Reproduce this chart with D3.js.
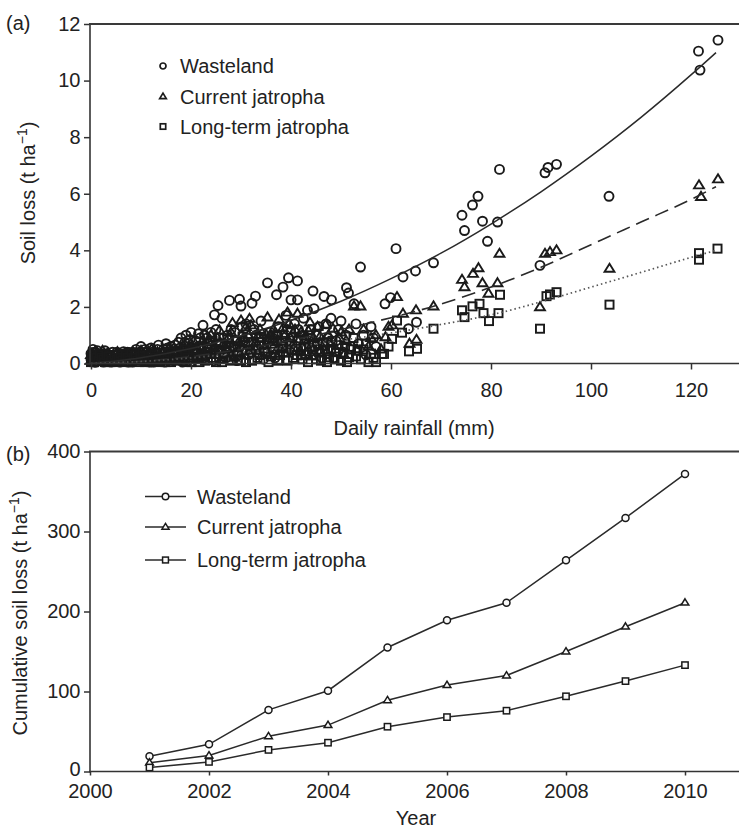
<!DOCTYPE html>
<html><head><meta charset="utf-8">
<script src="https://cdn.jsdelivr.net/npm/d3@7"></script>
<style>
body{margin:0;background:#fff}
text{font-family:"Liberation Sans",Arial,Helvetica,sans-serif;fill:#222}
</style>
</head><body>
<svg id="chart" width="739" height="829"></svg>
<script>
// ---------- Panel (a): daily soil loss vs rainfall ----------
const seriesNames = ["Wasteland", "Current jatropha", "Long-term jatropha"];

const wastelandPts = [
 [0,0.35],[0,0.15],[0.2,0.1],[0.3,0.3],[0.4,0.5],[0.5,0.2],[0.7,0.05],[0.8,0.4],[1,0.05],[1.2,0.25],[1.3,0.45],[1.5,0.35],[1.8,0.2],[2,0.1],[2.3,0.3],[2.5,0.05],[2.8,0.45],[3,0.15],[3.2,0.35],[3.5,0.3],[3.8,0.2],[4,0.05],[4.3,0.4],[4.6,0.1],[5,0.2],[5.2,0.4],[5.5,0.35],[5.8,0.05],[6,0.1],[6.2,0.3],[6.5,0.42],[6.8,0.15],[7,0.25],[7.3,0.4],[7.5,0.05],[7.8,0.2],[8,0.35],[8.3,0.05],[8.5,0.15],[8.8,0.3],[9,0.5],[9.3,0.15],[9.5,0.3],[9.8,0.4],[10,0.6],[10.3,0.3],[10.5,0.1],[10.8,0.5],[11,0.4],[11.3,0.15],[11.5,0.25],[11.8,0.05],[12,0.55],[12.3,0.4],[12.5,0.05],[12.8,0.2],[13,0.35],[13.3,0.5],[13.5,0.65],[13.8,0.1],[14,0.2],[14.3,0.35],[14.5,0.5],[14.8,0.05],[15,0.7],[15.3,0.55],[15.5,0.3],[15.8,0.15],[16,0.6],[16.3,0.4],[16.5,0.1],[16.8,0.65],[17,0.45],[17.3,0.2],[17.5,0.75],[17.8,0.55],[18,0.9],[18.3,0.05],[18.5,0.3],[18.8,0.75],[19,1.0],[19.3,0.4],[19.5,0.6],[19.8,0.85],[20,1.1],[20.3,0.5],[20.5,0.2],[21,0.8],[21.3,0.35],[21.5,1.05],[21.8,0.9],[22,0.5],
 [22.2,0.15],[22.4,1.35],[22.7,1.0],[23,0.3],[23.2,0.9],[23.5,0.7],[23.8,0.4],[24,1.1],[24.5,0.1],[24.7,1.72],[25,1.2],[25.4,2.05],[25.5,0.5],[25.8,0.7],[26.2,1.6],[26.3,0.35],[26.5,0.9],[27,0.2],[27.3,1.0],[27.7,2.23],[27.8,0.45],[28,1.2],[28.5,0.6],[28.8,1.1],[29.2,0.1],[29.7,2.27],[29.8,0.6],[30,2.03],[30.2,1.3],[30.5,0.8],[31,1.4],[31.3,0.9],[31.5,0.3],[32,0.4],[32.2,2.13],[32.6,1.2],[32.9,2.38],[33,1.0],[33.5,0.5],[33.8,0.75],[34,1.5],[34.5,1.05],[34.5,0.15],[35,0.4],[35.3,2.85],[35.8,1.1],[36,0.6],[36.3,0.9],[36.8,0.2],[37.1,2.43],[37.3,1.0],[37.5,1.3],[38,0.7],[38.4,2.7],[38.5,0.4],[39,1.7],[39.3,1.2],[39.5,3.03],[39.8,0.5],[40,2.25],[40.3,0.9],[40.7,1.4],[41.2,0.6],[41.3,2.92],[41.3,2.25],[41.5,1.2],[42,0.3],[42.3,1.0],[42.5,1.6],[43,0.3],[43.3,1.88],[43.5,0.7],[44,1.2],[44.4,2.56],[44.6,1.94],[44.8,0.6],[45,1.0],[45.5,0.5],[45.6,1.3],[46.2,0.2],[46.6,2.37],[47,1.4],[47.3,0.9],[48,1.6],[48.1,2.25],[48.5,0.2],[49,0.8],[49.5,1.2],[50,1.5],[50.5,0.4],[51,1.0],[51.1,2.68],[51.5,2.49],[52,0.6],[52.6,2.11],[53,1.4],[53.5,0.7],[53.9,3.41],[54.5,1.0],[55,0.3],[56,1.3],[56.5,0.9],[57,0.6],
 [58.8,2.11],[59.9,2.33],[61,4.06],[62.4,3.06],[63.5,1.23],[64.9,3.27],[65.1,1.46],[68.5,3.56],[74.2,5.24],[74.7,4.7],[76.3,5.6],[77.4,5.91],[78.3,5.03],[79.3,4.32],[81.3,5.0],[81.7,6.86],[89.8,3.47],[90.8,6.74],[91.4,6.93],[93.1,7.04],[103.6,5.91],[121.5,11.04],[121.8,10.37],[125.4,11.43]
];

const currentPts = [
 [0,0.3],[0,0.1],[0.3,0.05],[0.5,0.25],[0.8,0.4],[1,0.15],[1.3,0.2],[1.5,0.05],[2,0.3],[2.3,0.45],[2.5,0.1],[3,0.2],[3.3,0.35],[3.8,0.05],[4,0.15],[4.5,0.25],[5,0.1],[5.3,0.4],[5.8,0.3],[6,0.2],[6.5,0.15],[7,0.35],[7.2,0.05],[7.6,0.15],[8,0.25],[8.4,0.4],[8.8,0.1],[9.1,0.2],[9.5,0.35],[10,0.45],[10.2,0.2],[10.6,0.1],[11,0.05],[11.4,0.35],[11.8,0.3],[12.1,0.5],[12.5,0.15],[12.9,0.05],[13.3,0.4],[13.7,0.25],[14,0.1],[14.4,0.45],[14.8,0.3],[15.1,0.1],[15.5,0.5],[15.9,0.35],[16.2,0.2],[16.6,0.55],[17,0.4],[17.4,0.2],[17.8,0.1],[18.1,0.4],[18.5,0.6],[18.9,0.05],[19.2,0.3],[19.6,0.5],[20,0.7],[20.4,0.25],[20.8,0.45],[21.1,0.6],[21.5,0.15],[21.8,0.35],
 [22.3,0.8],[22.6,0.2],[23,0.5],[23.5,0.75],[24,1.0],[24.5,0.55],[25,0.3],[25.3,0.9],[25.7,1.17],[26,0.15],[26.5,0.7],[27,0.5],[27.5,0.9],[28,1.1],[28.3,1.43],[28.7,0.2],[29,0.4],[29.5,0.75],[30,1.52],[30.5,0.9],[30.8,0.45],[31,1.29],[31.5,1.0],[31.7,1.58],[32,1.35],[32.5,0.6],[33,0.75],[33.5,1.0],[33.8,1.2],[34.2,0.3],[34.8,0.5],[35.3,1.63],[35.5,0.8],[36,1.0],[36.5,1.2],[36.8,0.35],[37.3,0.85],[37.6,1.55],[38,0.5],[38.4,1.25],[38.8,1.0],[39.3,1.8],[39.6,1.4],[39.9,0.9],[40.5,0.7],[40.8,1.2],[41.3,1.76],[41.8,0.45],[42,1.1],[42.6,0.8],[43,0.4],[43.5,1.15],[43.8,1.45],[44.2,0.25],[44.5,0.9],[45.3,1.3],[45.8,0.95],[46.2,0.6],[46.9,1.37],[47.2,0.4],[47.5,1.0],[48,0.7],[48.4,1.23],[49,0.5],[49.6,0.9],[50,1.1],[50.6,0.3],[51,0.8],[51.6,1.2],[52.6,2.02],[53.2,0.5],[53.9,2.02],[54.5,1.2],[55.5,0.6],[56,0.9],[57,1.0],[58,0.5],[58.9,0.93],[59.5,1.3],[60.2,1.35],
 [61.2,2.35],[62.4,1.76],[63.7,0.7],[65,1.88],[65.1,0.84],[68.5,2.02],[74.2,2.96],[74.7,2.7],[76.4,3.17],[77.5,3.37],[78.3,2.84],[79.5,2.47],[81.3,2.84],[81.7,3.88],[89.8,1.99],[90.8,3.88],[91.8,3.94],[93.1,4.0],[103.7,3.35],[121.6,6.3],[122,5.89],[125.4,6.51]
];

const longtermPts = [
 [0,0.25],[0,0.05],[0.2,0.15],[0.4,0.4],[0.6,0.05],[1,0.3],[1.2,0.2],[1.5,0.1],[1.8,0.35],[2.2,0.2],[2.5,0.15],[2.8,0.05],[3.1,0.3],[3.5,0.25],[3.9,0.05],[4.2,0.1],[4.7,0.3],[5,0.05],[5.2,0.15],[5.5,0.2],[6,0.35],[6.3,0.1],[6.7,0.05],[7,0.3],[7.4,0.2],[7.8,0.05],[8.1,0.4],[8.5,0.2],[8.9,0.3],[9.3,0.1],[9.7,0.05],[10,0.25],[10.4,0.4],[10.8,0.05],[11.2,0.15],[11.5,0.3],[11.9,0.05],[12.3,0.1],[12.7,0.35],[13,0.2],[13.4,0.1],[13.8,0.05],[14.1,0.25],[14.5,0.35],[14.9,0.05],[15.3,0.15],[15.7,0.4],[16,0.05],[16.4,0.2],[16.8,0.3],[17.2,0.1],[17.5,0.45],[17.9,0.3],[18.3,0.15],[18.7,0.5],[19,0.35],[19.4,0.2],[19.8,0.05],[20.1,0.05],[20.5,0.5],[21,0.4],[21.3,0.2],[21.7,0.05],
 [22,0.6],[22.4,0.3],[22.8,0.1],[23.2,0.55],[23.5,0.4],[24,0.2],[24.3,0.8],[24.7,0.45],[25,0.05],[25.5,0.7],[25.8,0.5],[26.2,0.05],[26.5,0.25],[27,0.4],[27.3,0.85],[27.7,0.6],[28,0.1],[28.5,0.3],[28.8,0.6],[29.2,0.8],[29.5,0.3],[30,0.1],[30.3,0.95],[30.7,0.45],[31,0.05],[31.5,0.75],[31.8,0.5],[32.2,0.1],[32.5,0.75],[33,0.5],[33.3,0.2],[33.7,0.3],[34,0.9],[34.5,0.65],[34.8,0.4],[35.2,0.85],[35.5,0.05],[36,0.25],[36.3,0.7],[36.7,0.5],[37,1.0],[37.4,0.1],[37.8,0.3],[38.2,0.8],[38.5,0.6],[39,0.4],[39.3,0.1],[39.7,0.7],[40,1.1],[40.4,0.2],[40.8,0.45],[41.2,0.3],[41.5,0.8],[42,0.5],[42.3,0.15],[42.7,0.85],[43,0.6],[43.4,0.05],[43.8,1.0],[44.2,0.5],[44.5,0.3],[45,0.15],[45.3,0.7],[45.7,0.4],[46,0.1],[46.4,0.75],[46.8,0.5],[47.2,0.05],[47.6,0.22],[48,0.5],[48.3,0.8],[48.7,0.15],[49,0.4],[49.5,0.65],[50,0.1],[50.4,0.35],[50.8,0.6],[51.2,0.05],[51.6,0.22],[52,0.5],[52.5,0.9],[53,0.25],[53.3,0.45],[54,0.15],[54.5,0.5],[55,0.7],[55.5,0.05],[56,0.35],[56.5,0.2],[57,0.05],[58.2,0.34],[58.6,0.34],[59.5,0.6],[60.2,0.87],
 [61.2,1.52],[62.2,1.09],[63.6,0.43],[65.2,0.52],[68.5,1.23],[74.2,1.88],[74.7,1.64],[76.3,2.02],[77.7,2.11],[78.5,1.78],[79.6,1.5],[81.5,1.78],[81.8,2.43],[89.8,1.23],[91.1,2.38],[91.8,2.44],[93.1,2.52],[103.7,2.08],[121.6,3.9],[121.6,3.67],[125.3,4.06]
];

// fitted trend curves
const fitRain      = [0, 10, 20, 30, 40, 50, 60, 70, 80, 90, 100, 110, 120, 125];
const fitWasteland = [0, 0.2, 0.53, 0.98, 1.53, 2.2, 3.0, 3.9, 4.93, 6.07, 7.33, 8.7, 10.2, 10.99];
const fitCurrent   = [0, 0.08, 0.25, 0.5, 0.82, 1.2, 1.62, 2.1, 2.7, 3.4, 4.2, 5.0, 5.8, 6.25];
const fitLongterm  = [0, 0.07, 0.2, 0.38, 0.58, 0.82, 1.08, 1.38, 1.72, 2.18, 2.7, 3.22, 3.75, 4.0];

const rainTicks = [0, 20, 40, 60, 80, 100, 120];
const lossTicks = [0, 2, 4, 6, 8, 10, 12];

// ---------- Panel (b): cumulative soil loss ----------
const years         = [2001, 2002, 2003, 2004, 2005, 2006, 2007, 2008, 2009, 2010];
const cumWasteland  = [19, 34, 77, 101, 155, 189, 211, 264, 317, 372];
const cumCurrent    = [11, 20, 44, 58, 89, 108, 120, 150, 181, 211];
const cumLongterm   = [5, 12, 27, 36, 56, 68, 76, 94, 113, 133];
const yearTicks     = [2000, 2002, 2004, 2006, 2008, 2010];
const cumTicks      = [0, 100, 200, 300, 400];

// ---------- drawing ----------
const svg = d3.select("#chart");
const FS = 20;
const INK = "#1a1a1a";

function marker(sel, kind, size) {
  const s = size;
  if (kind === 0) {
    sel.append("circle").attr("r", s * 0.5).attr("cx", 0).attr("cy", 0);
  } else if (kind === 1) {
    const h = s * 0.9;
    sel.append("path").attr("d", `M0,${-h*0.62}L${s*0.55},${h*0.38}L${-s*0.55},${h*0.38}Z`);
  } else {
    sel.append("rect").attr("x", -s*0.45).attr("y", -s*0.45).attr("width", s*0.9).attr("height", s*0.9);
  }
}

// ===== Panel (a) =====
const xA = d3.scaleLinear().domain([0, 130]).range([91, 741]);
const yA = d3.scaleLinear().domain([0, 12]).range([363.5, 24]);

const gA = svg.append("g");

const ptsSets = [wastelandPts, currentPts, longtermPts];
ptsSets.forEach((pts, k) => {
  const g = gA.append("g").attr("fill", "none").attr("stroke", INK).attr("stroke-width", 1.9);
  pts.forEach(p => {
    const m = g.append("g").attr("transform", `translate(${xA(p[0])},${yA(p[1])})`);
    marker(m, k, 9);
  });
});

const fitLine = d3.line().x((d, i) => xA(fitRain[i])).y(d => yA(d)).curve(d3.curveMonotoneX);
gA.append("path").attr("d", fitLine(fitWasteland)).attr("fill", "none").attr("stroke", "#2a2a2a").attr("stroke-width", 1.5);
gA.append("path").attr("d", fitLine(fitCurrent)).attr("fill", "none").attr("stroke", "#2a2a2a").attr("stroke-width", 1.6).attr("stroke-dasharray", "14,7");
gA.append("path").attr("d", fitLine(fitLongterm)).attr("fill", "none").attr("stroke", "#555").attr("stroke-width", 1.7).attr("stroke-dasharray", "1.5,3");

// axes (a)
const axLA = gA.append("g").attr("transform", "translate(90,0)")
  .call(d3.axisLeft(yA).tickValues(lossTicks).tickSize(6).tickPadding(3.5).tickSizeOuter(0));
const axBA = gA.append("g").attr("transform", "translate(0,363.5)")
  .call(d3.axisBottom(xA).tickValues(rainTicks).tickSize(6).tickPadding(13).tickSizeOuter(0));
[axLA, axBA].forEach(a => {
  a.select(".domain").remove();
  a.selectAll("line").attr("stroke", "#333").attr("stroke-width", 1.5);
  a.selectAll("text").attr("font-size", FS).attr("font-family", "Liberation Sans, Arial, sans-serif").attr("fill", INK);
});
gA.append("line").attr("x1", 90).attr("x2", 90).attr("y1", 23).attr("y2", 364.3).attr("stroke", "#333").attr("stroke-width", 1.6);
gA.append("line").attr("x1", 89).attr("x2", 739).attr("y1", 363.5).attr("y2", 363.5).attr("stroke", "#333").attr("stroke-width", 1.6);
gA.append("line").attr("x1", 89).attr("x2", 739).attr("y1", 24).attr("y2", 24).attr("stroke", "#3a3a3a").attr("stroke-width", 2.2);

// legend (a)
const legA = gA.append("g");
seriesNames.forEach((n, i) => {
  const y = [66, 96.5, 126.5][i];
  const m = legA.append("g").attr("transform", `translate(163,${y})`).attr("fill", "none").attr("stroke", INK).attr("stroke-width", 1.7);
  marker(m, i, 6);
  legA.append("text").attr("x", 180).attr("y", y + 7).attr("font-size", FS).text(n);
});

gA.append("text").attr("x", 6).attr("y", 30).attr("font-size", FS).text("(a)");
gA.append("text").attr("x", 414).attr("y", 435).attr("text-anchor", "middle").attr("font-size", FS).text("Daily rainfall (mm)");
const tA = gA.append("text").attr("transform", "translate(35,193) rotate(-90)").attr("text-anchor", "middle").attr("font-size", FS);
tA.append("tspan").text("Soil loss (t ha");
tA.append("tspan").attr("dy", -8).attr("font-size", 14).text("\u22121");
tA.append("tspan").attr("dy", 8).text(")");

// ===== Panel (b) =====
const xB = d3.scaleLinear().domain([2000, 2011]).range([90, 744.5]);
const yB = d3.scaleLinear().domain([0, 400]).range([771.5, 451.5]);
const gB = svg.append("g");

const cumSets = [cumWasteland, cumCurrent, cumLongterm];
const lineB = d3.line().x((d, i) => xB(years[i])).y(d => yB(d));
cumSets.forEach((vals, k) => {
  gB.append("path").attr("d", lineB(vals)).attr("fill", "none").attr("stroke", "#2a2a2a").attr("stroke-width", 1.5);
});
cumSets.forEach((vals, k) => {
  const g = gB.append("g").attr("fill", "#fafafa").attr("stroke", INK).attr("stroke-width", 1.5);
  vals.forEach((v, i) => {
    const m = g.append("g").attr("transform", `translate(${xB(years[i])},${yB(v)})`);
    marker(m, k, 7);
  });
});

const axLB = gB.append("g").attr("transform", "translate(90,0)")
  .call(d3.axisLeft(yB).tickValues(cumTicks).tickSize(6).tickPadding(3.5).tickSizeOuter(0));
const axBB = gB.append("g").attr("transform", "translate(0,771.5)")
  .call(d3.axisBottom(xB).tickValues(yearTicks).tickFormat(d3.format("d")).tickSize(4).tickPadding(8.5).tickSizeOuter(0));
[axLB, axBB].forEach(a => {
  a.select(".domain").remove();
  a.selectAll("line").attr("stroke", "#333").attr("stroke-width", 1.5);
  a.selectAll("text").attr("font-size", FS).attr("font-family", "Liberation Sans, Arial, sans-serif").attr("fill", INK);
});
// lift the bottom "0" label slightly, as in the reference
axLB.selectAll(".tick").filter(d => d === 0).select("text").attr("y", -2.5);

gB.append("line").attr("x1", 90).attr("x2", 90).attr("y1", 451).attr("y2", 772.3).attr("stroke", "#333").attr("stroke-width", 1.6);
gB.append("line").attr("x1", 89).attr("x2", 739).attr("y1", 771.5).attr("y2", 771.5).attr("stroke", "#333").attr("stroke-width", 1.6);
gB.append("line").attr("x1", 89).attr("x2", 739).attr("y1", 451.5).attr("y2", 451.5).attr("stroke", "#3a3a3a").attr("stroke-width", 2.2);

const legB = gB.append("g");
seriesNames.forEach((n, i) => {
  const y = [496.5, 527, 560][i];
  legB.append("line").attr("x1", 145).attr("x2", 186).attr("y1", y).attr("y2", y).attr("stroke", "#2a2a2a").attr("stroke-width", 1.5);
  const m = legB.append("g").attr("transform", `translate(165.5,${y})`).attr("fill", "#fafafa").attr("stroke", INK).attr("stroke-width", 1.5);
  marker(m, i, 6.5);
  legB.append("text").attr("x", 197).attr("y", y + 7).attr("font-size", FS).text(n);
});

gB.append("text").attr("x", 6).attr("y", 461).attr("font-size", FS).text("(b)");
gB.append("text").attr("x", 416).attr("y", 825).attr("text-anchor", "middle").attr("font-size", FS).text("Year");
const tB = gB.append("text").attr("transform", "translate(27,613) rotate(-90)").attr("text-anchor", "middle").attr("font-size", FS);
tB.append("tspan").text("Cumulative soil loss (t ha");
tB.append("tspan").attr("dy", -8).attr("font-size", 14).text("\u22121");
tB.append("tspan").attr("dy", 8).text(")");
</script>
</body></html>
